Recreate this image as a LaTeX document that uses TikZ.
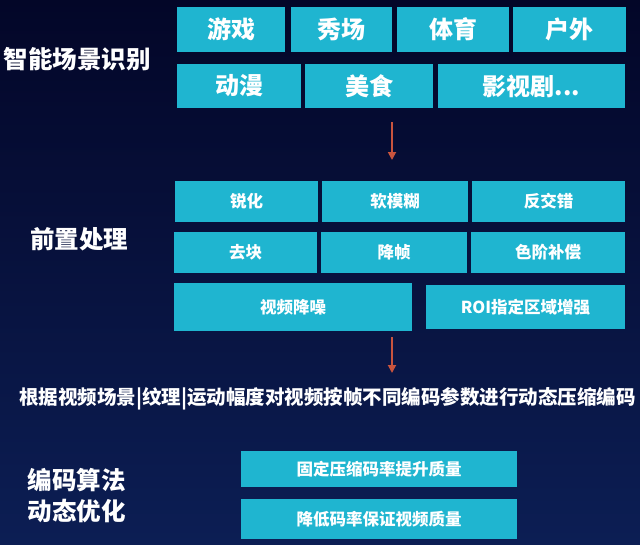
\documentclass[tikz,border=0pt]{standalone}
\usepackage{fontspec}
\setmainfont{Noto Sans CJK SC}
\usetikzlibrary{arrows.meta}
\definecolor{bgtop}{RGB}{3,6,40}
\definecolor{bgbot}{RGB}{12,30,84}
\definecolor{boxc}{RGB}{31,181,208}
\definecolor{arrc}{RGB}{200,84,62}
\tikzset{
  box/.style={fill=boxc, text=white, inner sep=0pt, anchor=center},
  bigtext/.style={font=\fontsize{24}{28}\selectfont\bfseries},
  smalltext/.style={font=\fontsize{16.5}{20}\selectfont\bfseries},
  label/.style={text=white, inner sep=0pt, anchor=center},
  flow/.style={draw=arrc, line width=1.8pt, -{Triangle[width=8pt,length=8pt]}}
}
\begin{document}
\begin{tikzpicture}[x=1pt,y=-1pt]
\shade[top color=bgtop, bottom color=bgbot] (0,0) rectangle (640,544);
\useasboundingbox (0,0) rectangle (640,544);
% section labels
\node[label, font=\fontsize{24.5}{28}\selectfont\bfseries] (l1) at (77,59) {智能场景识别};
\node[label, font=\fontsize{24.5}{28}\selectfont\bfseries] (l2) at (79.5,239) {前置处理};
\node[label, font=\fontsize{24.5}{31}\selectfont\bfseries, align=left] (l3) at (76.5,495.5) {编码算法\\动态优化};
% row 1
\node[box, bigtext, minimum width=108, minimum height=45] (b11) at (231,29.5) {游戏};
\node[box, bigtext, minimum width=101, minimum height=45] (b12) at (341.5,29.5) {秀场};
\node[box, bigtext, minimum width=112, minimum height=45] (b13) at (453,29.5) {体育};
\node[box, bigtext, minimum width=113, minimum height=45] (b14) at (569.5,29.5) {户外};
% row 2
\node[box, bigtext, minimum width=124, minimum height=44] (b21) at (239,86) {动漫};
\node[box, bigtext, minimum width=128, minimum height=44] (b22) at (369,86) {美食};
\node[box, bigtext, minimum width=187, minimum height=44] (b23) at (531.5,86) {影视剧...};
% row 3
\node[box, smalltext, minimum width=143, minimum height=41] (b31) at (246.5,201.5) {锐化};
\node[box, smalltext, minimum width=146, minimum height=41] (b32) at (395,201.5) {软模糊};
\node[box, smalltext, minimum width=153, minimum height=41] (b33) at (548.5,201.5) {反交错};
% row 4
\node[box, smalltext, minimum width=143, minimum height=41] (b41) at (245.5,252.5) {去块};
\node[box, smalltext, minimum width=146, minimum height=41] (b42) at (394,252.5) {降帧};
\node[box, smalltext, minimum width=154, minimum height=41] (b43) at (548,252.5) {色阶补偿};
% row 5
\node[box, smalltext, minimum width=238, minimum height=48] (b51) at (293,307) {视频降噪};
\node[box, smalltext, minimum width=199, minimum height=44] (b52) at (525.5,307) {ROI指定区域增强};
% long text
\node[label, font=\fontsize{19.5}{24}\selectfont\bfseries] (mid) at (327.5,399) {根据视频场景|纹理|运动幅度对视频按帧不同编码参数进行动态压缩编码};
% bottom boxes
\node[box, smalltext, minimum width=276, minimum height=36] (c1) at (379,469) {固定压缩码率提升质量};
\node[box, smalltext, minimum width=276, minimum height=40] (c2) at (379,519) {降低码率保证视频质量};
% arrows
\coordinate (a1s) at (392,122);
\coordinate (a1e) at (392,160);
\coordinate (a2s) at (392,337);
\coordinate (a2e) at (392,373);
\draw[flow] (a1s) -- (a1e);
\draw[flow] (a2s) -- (a2e);
\end{tikzpicture}
\end{document}
